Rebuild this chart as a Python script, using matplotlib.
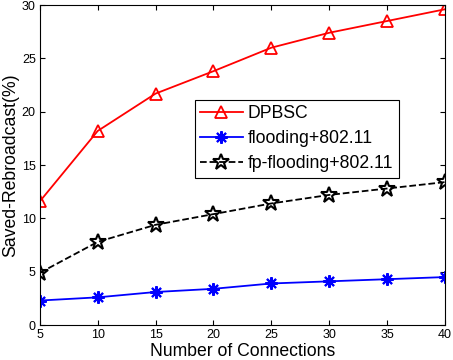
import matplotlib
matplotlib.use('Agg')
import matplotlib.pyplot as plt

plt.rcParams['font.family'] = ['Liberation Sans', 'DejaVu Sans']

connections = [5, 10, 15, 20, 25, 30, 35, 40]
dpbsc = [11.6, 18.2, 21.7, 23.8, 26.0, 27.4, 28.5, 29.6]
flooding = [2.3, 2.6, 3.1, 3.4, 3.9, 4.1, 4.3, 4.5]
fp_flooding = [4.9, 7.8, 9.4, 10.4, 11.4, 12.2, 12.8, 13.4]

fig = plt.figure(figsize=(4.53, 3.6), dpi=100)
ax = fig.add_axes([0.088, 0.097, 0.894, 0.889])

ax.plot(connections, dpbsc, color='red', marker='^', markersize=8,
        markerfacecolor='none', markeredgecolor='red', mew=1.3, lw=1.3,
        label='DPBSC')
# matlab style asterisk
ax.plot(connections, flooding, color='blue', marker=(8, 2, 0), markersize=9,
        mew=1.5, lw=1.3, label='flooding+802.11')
ax.plot(connections, fp_flooding, color='black', marker='*', markersize=12,
        markerfacecolor='none', mew=1.5, ls='--', lw=1.3,
        label='fp-flooding+802.11')

ax.set_xlim(5, 40)
ax.set_ylim(0, 30)
ax.set_xticks(connections)
ax.set_yticks([0, 5, 10, 15, 20, 25, 30])
ax.tick_params(direction='in', top=True, right=True, labelsize=9, pad=3)
ax.set_xlabel('Number of Connections', fontsize=12.7, labelpad=1)
ax.set_ylabel('Saved-Rebroadcast(%)', fontsize=12.7, labelpad=2)

leg = ax.legend(loc='upper left', bbox_to_anchor=(0.383, 0.703), fontsize=12.7,
                fancybox=False, edgecolor='black', framealpha=1,
                handlelength=2.4, borderpad=0.3, labelspacing=0.45,
                handletextpad=0.3, borderaxespad=0)
leg.get_frame().set_linewidth(0.8)

fig.savefig('out.png', dpi=100)
